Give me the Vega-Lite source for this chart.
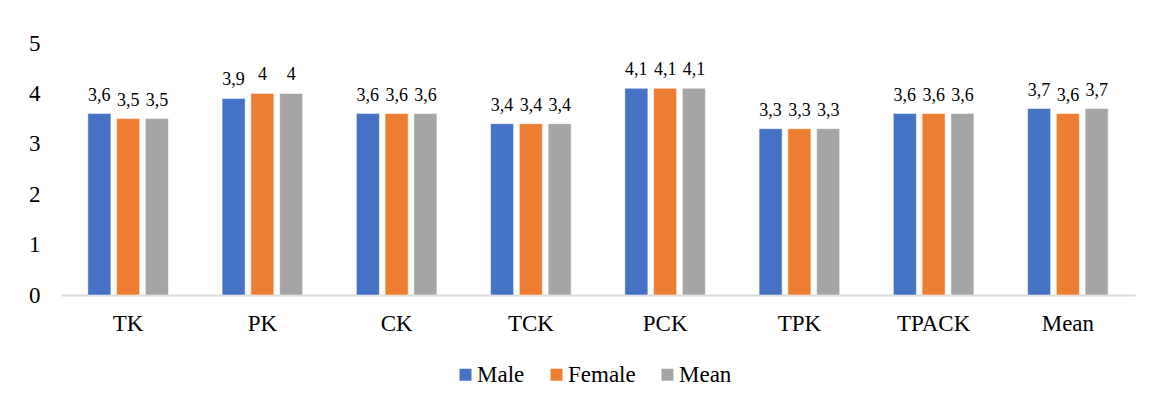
{
  "$schema": "https://vega.github.io/schema/vega-lite/v6.json",
  "width": 1074,
  "height": 252,
  "autosize": {"type": "none"},
  "padding": {"left": 61, "top": 43, "right": 17, "bottom": 108},
  "background": "white",
  "config": {
    "view": {"stroke": null},
    "font": "Liberation Serif",
    "locale": {"number": {"decimal": ",", "thousands": ".", "grouping": [3], "currency": ["", " €"]}}
  },
  "data": {
    "values": [
      {"cat": "TK", "series": "Male", "value": 3.6},
      {"cat": "TK", "series": "Female", "value": 3.5},
      {"cat": "TK", "series": "Mean", "value": 3.5},
      {"cat": "PK", "series": "Male", "value": 3.9},
      {"cat": "PK", "series": "Female", "value": 4.0},
      {"cat": "PK", "series": "Mean", "value": 4.0},
      {"cat": "CK", "series": "Male", "value": 3.6},
      {"cat": "CK", "series": "Female", "value": 3.6},
      {"cat": "CK", "series": "Mean", "value": 3.6},
      {"cat": "TCK", "series": "Male", "value": 3.4},
      {"cat": "TCK", "series": "Female", "value": 3.4},
      {"cat": "TCK", "series": "Mean", "value": 3.4},
      {"cat": "PCK", "series": "Male", "value": 4.1},
      {"cat": "PCK", "series": "Female", "value": 4.1},
      {"cat": "PCK", "series": "Mean", "value": 4.1},
      {"cat": "TPK", "series": "Male", "value": 3.3},
      {"cat": "TPK", "series": "Female", "value": 3.3},
      {"cat": "TPK", "series": "Mean", "value": 3.3},
      {"cat": "TPACK", "series": "Male", "value": 3.6},
      {"cat": "TPACK", "series": "Female", "value": 3.6},
      {"cat": "TPACK", "series": "Mean", "value": 3.6},
      {"cat": "Mean", "series": "Male", "value": 3.7},
      {"cat": "Mean", "series": "Female", "value": 3.6},
      {"cat": "Mean", "series": "Mean", "value": 3.7}
    ]
  },
  "encoding": {
    "x": {
      "field": "cat",
      "type": "nominal",
      "sort": ["TK", "PK", "CK", "TCK", "PCK", "TPK", "TPACK", "Mean"],
      "scale": {"paddingInner": 0.4, "paddingOuter": 0.2},
      "axis": {
        "title": null,
        "labelAngle": 0,
        "labelFont": "Liberation Serif",
        "labelFontSize": 23,
        "labelColor": "#000000",
        "labelPadding": 17,
        "ticks": false,
        "domainColor": "#d9d9d9",
        "domainWidth": 2
      }
    },
    "xOffset": {
      "field": "series",
      "type": "nominal",
      "sort": ["Male", "Female", "Mean"],
      "scale": {"paddingInner": 0.2, "paddingOuter": 0}
    },
    "y": {
      "field": "value",
      "type": "quantitative",
      "scale": {"domain": [0, 5]},
      "axis": {
        "title": null,
        "values": [0, 1, 2, 3, 4, 5],
        "format": "d",
        "grid": false,
        "domain": false,
        "ticks": false,
        "labelFont": "Liberation Serif",
        "labelFontSize": 23,
        "labelColor": "#000000",
        "labelPadding": 21
      }
    }
  },
  "layer": [
    {
      "mark": {"type": "bar", "stroke": "white", "strokeWidth": 0.5},
      "encoding": {
        "color": {
          "field": "series",
          "type": "nominal",
          "sort": ["Male", "Female", "Mean"],
          "scale": {"domain": ["Male", "Female", "Mean"], "range": ["#4472C4", "#ED7D31", "#A5A5A5"]},
          "legend": {
            "title": null,
            "orient": "none",
            "legendX": 393,
            "legendY": 320,
            "direction": "horizontal",
            "symbolType": "square",
            "symbolSize": 144,
            "symbolStrokeWidth": 0,
            "labelFont": "Liberation Serif",
            "labelFontSize": 23,
            "labelColor": "#000000",
            "labelOffset": 0,
            "columnPadding": 20
          }
        }
      }
    },
    {
      "mark": {"type": "text", "baseline": "alphabetic", "dy": -13, "font": "Liberation Serif", "fontSize": 18, "color": "#000000"},
      "encoding": {
        "text": {"field": "value", "type": "quantitative", "format": "~g"}
      }
    }
  ]
}
